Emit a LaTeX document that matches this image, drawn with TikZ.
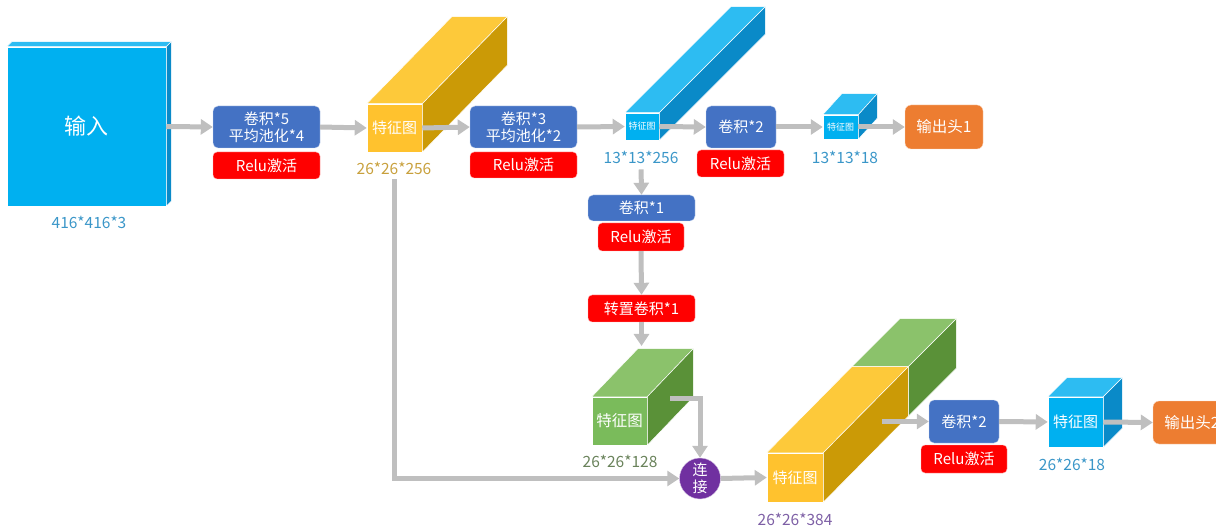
\documentclass[tikz,border=0pt]{standalone}
\usepackage{fontspec}
\setmainfont{Noto Sans CJK SC}
\usetikzlibrary{arrows.meta}

\definecolor{flowgray}{RGB}{191,191,191}
\definecolor{opblue}{RGB}{68,114,196}
\definecolor{actred}{RGB}{255,0,0}
\definecolor{outorange}{RGB}{237,125,49}
\definecolor{catpurple}{RGB}{112,48,160}
\definecolor{cyanF}{RGB}{0,176,240}
\definecolor{cyanT}{RGB}{45,188,242}
\definecolor{cyanS}{RGB}{10,138,200}
\definecolor{yelF}{RGB}{255,194,46}
\definecolor{yelT}{RGB}{253,201,58}
\definecolor{yelS}{RGB}{203,154,6}
\definecolor{grnF}{RGB}{122,187,91}
\definecolor{grnT}{RGB}{139,194,107}
\definecolor{grnS}{RGB}{90,145,56}
\definecolor{labteal}{RGB}{58,150,200}
\definecolor{labgold}{RGB}{200,160,60}
\definecolor{labgreen}{RGB}{105,130,90}
\definecolor{labpurple}{RGB}{125,95,165}

% top and side face of a block, #1 front node, (#2,#3) depth
\newcommand{\blockfaces}[5]{%
  \filldraw[fill=#4, draw=white, line width=0.5pt] (#1.north west) -- ++(#2,#3)
    -- ([shift={(#2,#3)}]#1.north east) -- (#1.north east) -- cycle;
  \filldraw[fill=#5, draw=white, line width=0.5pt] (#1.north east) -- ([shift={(#2,#3)}]#1.north east)
    -- ([shift={(#2,#3)}]#1.south east) -- (#1.south east) -- cycle;
}

\begin{document}
\begin{tikzpicture}[x=1pt, y=-1pt,
  flow/.style={draw=flowgray, line width=5pt, -{Triangle[length=12pt,width=15pt]}},
  opbox/.style={rounded corners=5pt, fill=opblue, draw=white!70!opblue, text=white, inner sep=0pt, align=center, font=\fontsize{15}{17}\selectfont},
  actbox/.style={rounded corners=4pt, fill=actred, draw=white!70!actred, text=white, inner sep=0pt, font=\fontsize{15}{17}\selectfont},
  outbox/.style={rounded corners=6pt, fill=outorange, draw=white!70!outorange, text=white, inner sep=0pt, minimum width=78pt, minimum height=44pt, font=\fontsize{15.5}{18}\selectfont},
  front/.style={draw=white, line width=0.5pt, inner sep=0pt, text=white, font=\fontsize{15}{17}\selectfont},
  dim/.style={inner sep=1pt, font=\fontsize{15.5}{18}\selectfont}
]
\useasboundingbox (0,0) rectangle (1216,529);

% input
\node[front, fill=cyanF, minimum width=159pt, minimum height=159pt, font=\fontsize{22}{26}\selectfont] (inp) at (86.5,126.5) {输入};
\blockfaces{inp}{5}{-5}{cyanT}{cyanS}
\node[dim, text=labteal] (inpL) at (89,222) {416*416*3};

\node[opbox, minimum width=107pt, minimum height=42pt] (c5) at (266.5,127) {卷积*5\\平均池化*4};
\node[actbox, minimum width=107pt, minimum height=27pt] (r1) at (266.5,165.5) {Relu激活};

% first feature map
\node[front, fill=yelF, minimum width=55pt, minimum height=48pt] (yel1) at (394.5,128) {特征图};
\blockfaces{yel1}{85}{-87}{yelT}{yelS}
\node[dim, text=labgold] (yel1L) at (394,168) {26*26*256};

\node[opbox, minimum width=107pt, minimum height=42pt] (c3) at (523.5,127) {卷积*3\\平均池化*2};
\node[actbox, minimum width=107pt, minimum height=26pt] (r2) at (523.5,165) {Relu激活};

\node[front, fill=cyanF, minimum width=34pt, minimum height=27pt, font=\fontsize{9}{11}\selectfont] (cy1) at (642,126.5) {特征图};
\blockfaces{cy1}{106}{-106}{cyanT}{cyanS}
\node[dim, text=labteal] (cy1L) at (641,157) {13*13*256};

\node[opbox, minimum width=70pt, minimum height=42pt] (c2a) at (741,127) {卷积*2};
\node[actbox, minimum width=87pt, minimum height=27pt] (r3) at (740.5,163.5) {Relu激活};

\node[front, fill=cyanF, minimum width=35pt, minimum height=24pt, font=\fontsize{9}{11}\selectfont] (cy2) at (840.5,127) {特征图};
\blockfaces{cy2}{19}{-21}{cyanT}{cyanS}
\node[dim, text=labteal] (cy2L) at (845,157) {13*13*18};

\node[outbox] (out1) at (944,127) {输出头1};

% upsampling branch
\node[opbox, minimum width=107pt, minimum height=26pt] (c1) at (641.5,208) {卷积*1};
\node[actbox, minimum width=86pt, minimum height=28pt] (r4) at (641,237) {Relu激活};
\node[actbox, minimum width=107pt, minimum height=27pt] (tc) at (641.5,308.5) {转置卷积*1};

\node[front, fill=grnF, minimum width=55pt, minimum height=48pt, font=\fontsize{15.5}{18}\selectfont] (grn) at (619.5,421) {特征图};
\blockfaces{grn}{46}{-48}{grnT}{grnS}
\node[dim, text=labgreen] (grnL) at (620,461) {26*26*128};
\coordinate (grnTop) at (642,346);
\coordinate (grnOut) at (670,398);

\node[circle, fill=catpurple, draw=white!70!catpurple, text=white, minimum size=41pt, inner sep=0pt, align=center, font=\fontsize{15}{17}\selectfont] (cat) at (700,478.5) {连\\接};

% concatenated feature map
\node[front, fill=grnF, minimum width=56pt, minimum height=49pt] (bigG) at (880,391.5) {};
\blockfaces{bigG}{48}{-48}{grnT}{grnS}
\node[front, fill=yelF, minimum width=56pt, minimum height=49pt] (big) at (795,477.5) {特征图};
\blockfaces{big}{85}{-86}{yelT}{yelS}
\node[dim, text=labpurple] (bigL) at (795,519) {26*26*384};
\coordinate (bigOut) at (882,421.5);

\node[opbox, minimum width=70pt, minimum height=43pt] (c2b) at (964,421.5) {卷积*2};
\node[actbox, minimum width=86pt, minimum height=28pt] (r5) at (964,459) {Relu激活};

\node[front, fill=cyanF, minimum width=55pt, minimum height=50pt] (cy3) at (1075.5,422) {特征图};
\blockfaces{cy3}{19}{-19}{cyanT}{cyanS}
\node[dim, text=labteal] (cy3L) at (1072,464) {26*26*18};

\node[outbox, minimum height=43pt] (out2) at (1192,422.5) {输出头2};

% connectors
\draw[flow] (inp.east) -- (c5.west);
\draw[flow] (c5.east) -- (yel1.west);
\draw[flow] (yel1.east) -- (c3.west);
\draw[flow] (c3.east) -- (cy1.west);
\draw[flow] (cy1.east) -- (c2a.west);
\draw[flow] (c2a.east) -- (cy2.west);
\draw[flow] (cy2.east) -- (out1.west);

\draw[flow, shorten <=5pt] (cy1L.south) -- (c1.north);
\draw[flow] (r4.south) -- (tc.north);
\draw[flow] (tc.south) -- (tc.south |- grnTop);
\draw[flow] (grnOut) -| (cat.north);
\draw[flow, shorten <=4pt] (yel1L.south) |- (cat.west);
\draw[flow] (cat.east) -- (big.west);
\draw[flow] (bigOut) -- (c2b.west);
\draw[flow] (c2b.east) -- (cy3.west);
\draw[flow] (cy3.east) -- (out2.west);

\end{tikzpicture}
\end{document}
